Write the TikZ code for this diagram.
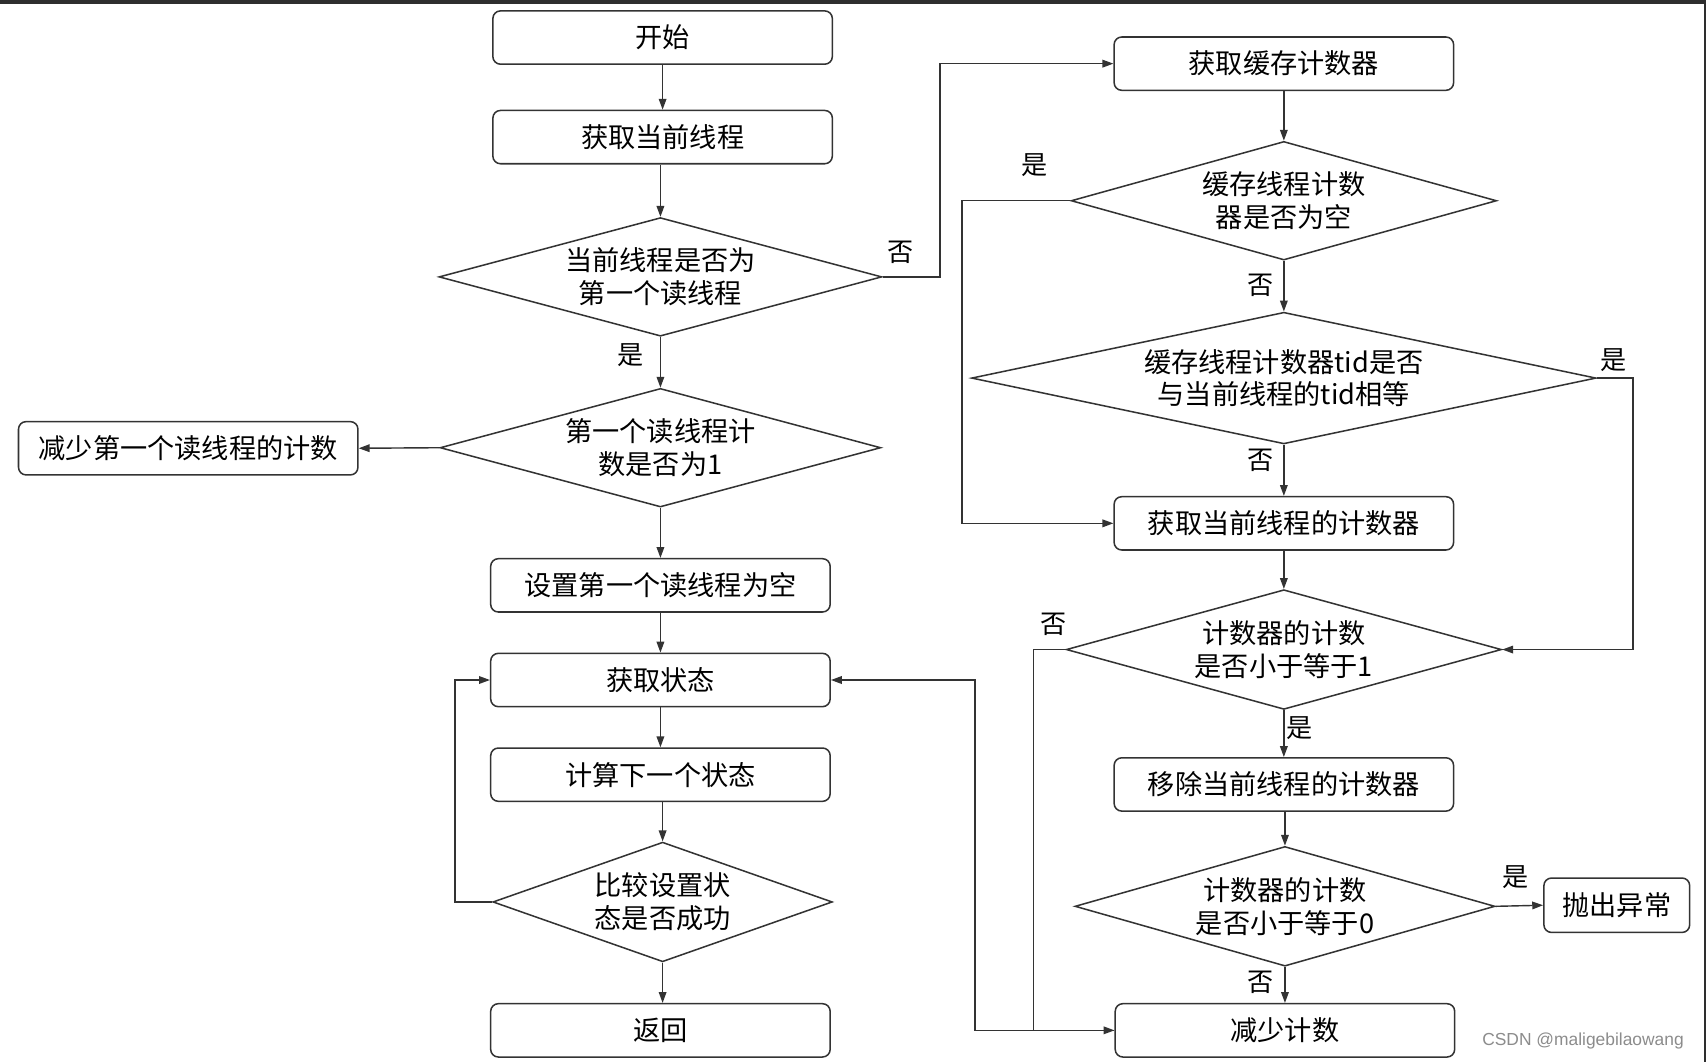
\documentclass[tikz,border=0pt]{standalone}
\usepackage{fontspec}
\newfontfamily\cjk{Noto Sans CJK SC}
\newfontfamily\wmfont{Liberation Sans}
\usetikzlibrary{shapes.geometric,arrows.meta}
\definecolor{linec}{HTML}{333333}
\definecolor{framec}{HTML}{2E2E2E}
\tikzset{
  txt/.style={font=\cjk\fontsize{25pt}{30pt}\selectfont, align=center, text=black},
  box/.style={txt, draw=linec, rounded corners=7pt, line width=1.4pt, minimum width=312pt, minimum height=49pt, inner sep=0pt},
  dia/.style={txt, draw=linec, diamond, line width=1.4pt, inner sep=0pt},
  arr/.style={-{Triangle[length=10pt,width=7pt]}, line width=1.3pt, draw=linec},
  lbl/.style={font=\cjk\fontsize{24pt}{28pt}\selectfont, text=black, inner sep=0pt}
}
\begin{document}
\begin{tikzpicture}[x=1pt,y=-1pt]
\useasboundingbox (0,0) rectangle (1568,976);
\fill[white] (0,0) rectangle (1568,976);
\fill[framec] (0,0) rectangle (1568,3.7);
\fill[framec] (1566,0) rectangle (1568,976);

% left column
\node[box] (start) at (609,34.5) {开始};
\node[box] (getcur) at (609,126) {获取当前线程};
\node[dia, minimum width=407pt, minimum height=109pt, shape aspect=3.73] (isfirst) at (607,254.5) {当前线程是否为\\第一个读线程};
\node[dia, minimum width=405pt, minimum height=109pt, shape aspect=3.72] (isone) at (607,411.5) {第一个读线程计\\数是否为1};
\node[box] (decfirst) at (173,412) {减少第一个读线程的计数};
\node[box] (setnull) at (607,538) {设置第一个读线程为空};
\node[box] (getstate) at (607,625) {获取状态};
\node[box] (calc) at (607,712) {计算下一个状态};
\node[dia, minimum width=312pt, minimum height=110pt, shape aspect=2.84] (cas) at (609,829) {比较设置状\\态是否成功};
\node[box] (ret) at (607,947) {返回};

% right column
\node[box] (getcache) at (1180,58.5) {获取缓存计数器};
\node[dia, minimum width=391pt, minimum height=109pt, shape aspect=3.59] (cachenull) at (1180,184.5) {缓存线程计数\\器是否为空};
\node[dia, minimum width=574pt, minimum height=121pt, shape aspect=4.74] (tideq) at (1180,347.5) {缓存线程计数器tid是否\\与当前线程的tid相等};
\node[box] (getcnt) at (1180,481) {获取当前线程的计数器};
\node[dia, minimum width=400pt, minimum height=110pt, shape aspect=3.64] (le1) at (1180,597) {计数器的计数\\是否小于等于1};
\node[box] (remove) at (1180,721) {移除当前线程的计数器};
\node[dia, minimum width=386pt, minimum height=110pt, shape aspect=3.51] (le0) at (1181,833) {计数器的计数\\是否小于等于0};
\node[box, minimum width=134pt, minimum height=50pt] (throw) at (1486,832) {抛出异常};
\node[box] (dec) at (1181,947) {减少计数};

% coordinates for bends
\coordinate (b1) at (864,254.5);
\coordinate (b2) at (864,58.5);
\coordinate (b3) at (418,829);
\coordinate (b4) at (418,625);
\coordinate (b5) at (884,184.5);
\coordinate (b6) at (884,481);
\coordinate (b7) at (1501,347.5);
\coordinate (b8) at (1501,597);
\coordinate (b9) at (950,597);
\coordinate (b10) at (950,947);
\coordinate (b11) at (896,947);
\coordinate (b12) at (896,625);

% left flow
\draw[arr] (start) -- (getcur);
\draw[arr] (getcur.south -| isfirst.north) -- (isfirst.north);
\draw[arr] (isfirst.south) -- (isone.north);
\draw[arr] (isone.west) -- (decfirst.east);
\draw[arr] (isone.south) -- (setnull.north);
\draw[arr] (setnull) -- (getstate);
\draw[arr] (getstate) -- (calc);
\draw[arr] (calc.south -| cas.north) -- (cas.north);
\draw[arr] (cas.south) -- (cas.south |- ret.north);
\draw[arr] (cas.west) -- (b3) -- (b4) -- (getstate.west);
\draw[arr] (isfirst.east) -- (b1) -- (b2) -- (getcache.west);

% right flow
\draw[arr] (getcache) -- (cachenull.north);
\draw[arr] (cachenull.west) -- (b5) -- (b6) -- (getcnt.west);
\draw[arr] (cachenull.south) -- (tideq.north);
\draw[arr] (tideq.south) -- (getcnt.north);
\draw[arr] (tideq.east) -- (b7) -- (b8) -- (le1.east);
\draw[arr] (getcnt) -- (le1.north);
\draw[arr] (le1.west) -- (b9) -- (b10) -- (dec.west);
\draw[arr] (le1.south) -- (remove.north);
\draw[arr] (remove.south -| le0.north) -- (le0.north);
\draw[arr] (le0.east) -- (throw.west);
\draw[arr] (le0.south) -- (dec.north);
\draw[arr] (dec.west) -- (b11) -- (b12) -- (getstate.east);

% labels
\node[lbl] (l1) at (828,232) {否};
\node[lbl] (l2) at (580,326) {是};
\node[lbl] (l3) at (951,152) {是};
\node[lbl] (l4) at (1159,262) {否};
\node[lbl] (l5) at (1159,423) {否};
\node[lbl] (l6) at (1483,331) {是};
\node[lbl] (l7) at (968,574) {否};
\node[lbl] (l8) at (1194,669) {是};
\node[lbl] (l9) at (1393,806) {是};
\node[lbl] (l10) at (1159,903) {否};

% watermark
\node[font=\wmfont\fontsize{16pt}{18pt}\selectfont, text=black!45, inner sep=0pt] (wm) at (1455,957) {CSDN @maligebilaowang};
\end{tikzpicture}
\end{document}
